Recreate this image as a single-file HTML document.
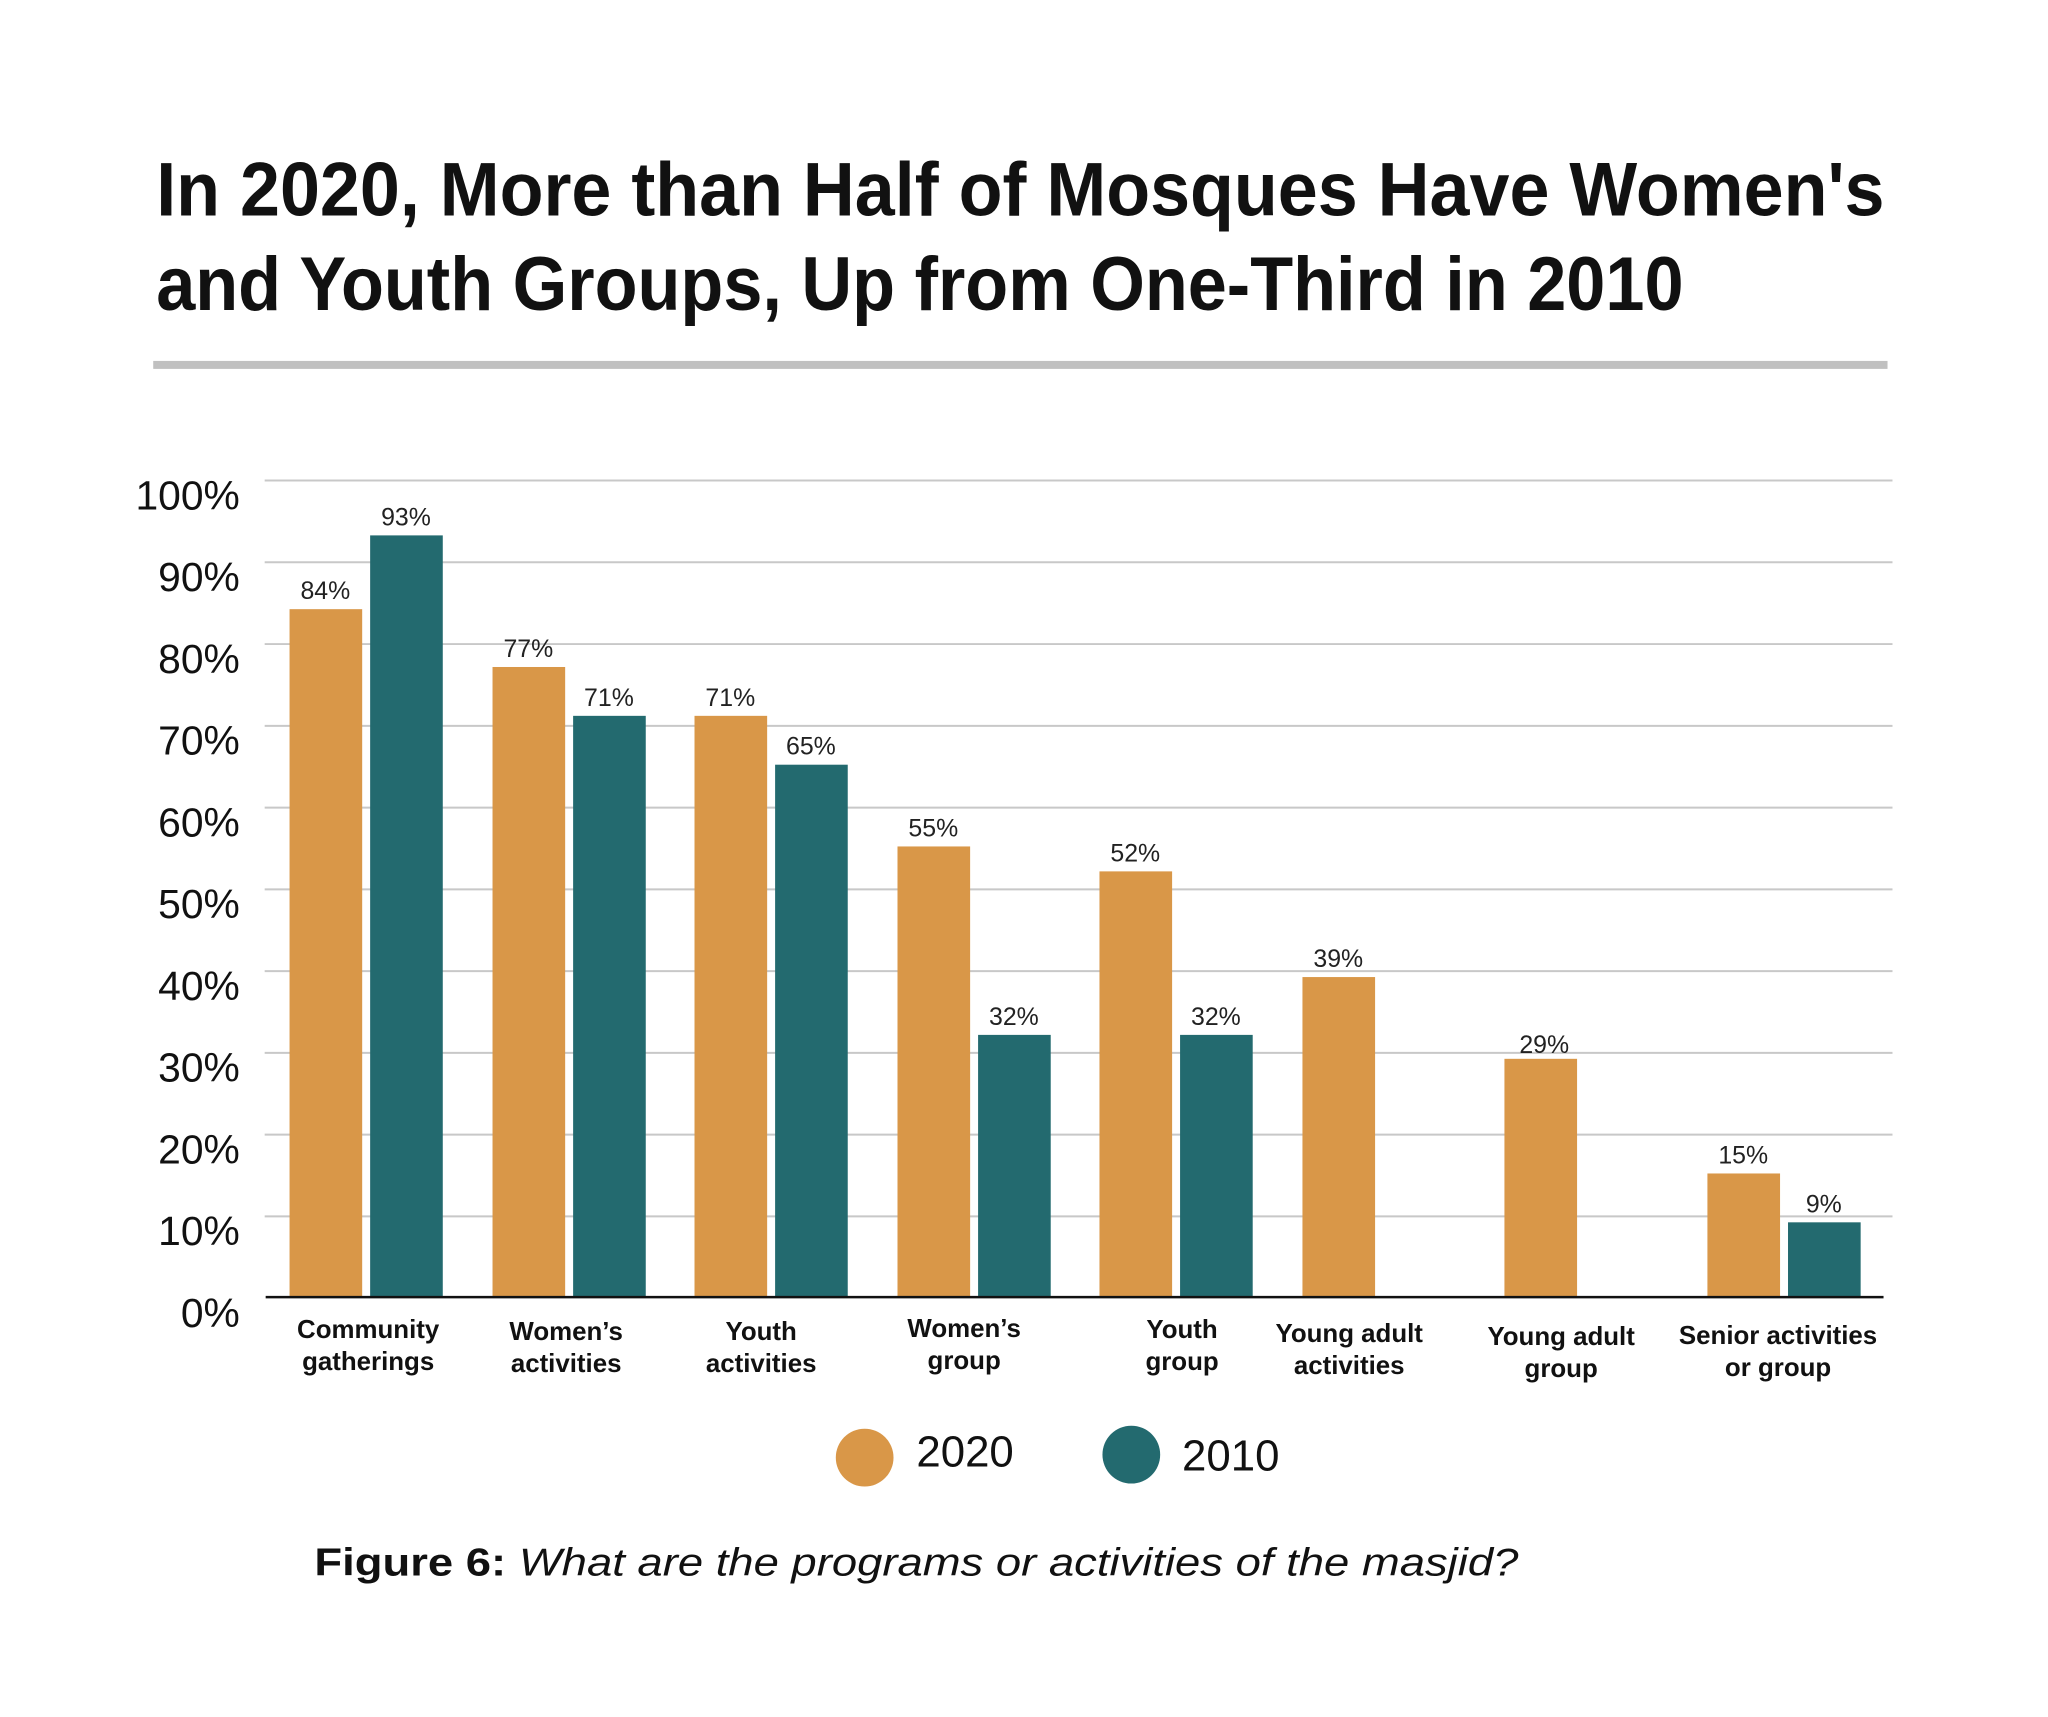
<!DOCTYPE html>
<html><head><meta charset="utf-8"><style>
html,body{margin:0;padding:0;background:#fff;}
svg{display:block;}
</style></head><body>
<svg width="2048" height="1717" viewBox="0 0 2048 1717" xmlns="http://www.w3.org/2000/svg" font-family="Liberation Sans, sans-serif">
<rect width="2048" height="1717" fill="#fff"/>
<g transform="scale(0.995,0.997)">
<text x="157" y="216" font-size="76" font-weight="bold" textLength="1737" lengthAdjust="spacingAndGlyphs" fill="#111">In 2020, More than Half of Mosques Have Women's</text>
<text x="157" y="311" font-size="76" font-weight="bold" textLength="1535" lengthAdjust="spacingAndGlyphs" fill="#111">and Youth Groups, Up from One-Third in 2010</text>
<rect x="154" y="362" width="1743" height="8" fill="#c0c0c0"/>
<g stroke="#c8c8c8" stroke-width="2">
<line x1="266" x2="1902" y1="482" y2="482"/><line x1="266" x2="1902" y1="564" y2="564"/>
<line x1="266" x2="1902" y1="646" y2="646"/><line x1="266" x2="1902" y1="728" y2="728"/>
<line x1="266" x2="1902" y1="810" y2="810"/><line x1="266" x2="1902" y1="892" y2="892"/>
<line x1="266" x2="1902" y1="974" y2="974"/><line x1="266" x2="1902" y1="1056" y2="1056"/>
<line x1="266" x2="1902" y1="1138" y2="1138"/><line x1="266" x2="1902" y1="1220" y2="1220"/>
</g>
<g font-size="41" fill="#111" text-anchor="end">
<text x="241" y="511">100%</text><text x="241" y="593">90%</text><text x="241" y="675">80%</text>
<text x="241" y="757">70%</text><text x="241" y="839">60%</text><text x="241" y="921">50%</text>
<text x="241" y="1003">40%</text><text x="241" y="1085">30%</text><text x="241" y="1167">20%</text>
<text x="241" y="1249">10%</text><text x="241" y="1331">0%</text>
</g>
<g fill="#D99748">
<rect x="291" y="611" width="73" height="689"/>
<rect x="495" y="669" width="73" height="631"/>
<rect x="698" y="718" width="73" height="582"/>
<rect x="902" y="849" width="73" height="451"/>
<rect x="1105" y="874" width="73" height="426"/>
<rect x="1309" y="980" width="73" height="320"/>
<rect x="1512" y="1062" width="73" height="238"/>
<rect x="1716" y="1177" width="73" height="123"/>
</g>
<g fill="#236A6F">
<rect x="372" y="537" width="73" height="763"/>
<rect x="576" y="718" width="73" height="582"/>
<rect x="779" y="767" width="73" height="533"/>
<rect x="983" y="1038" width="73" height="262"/>
<rect x="1186" y="1038" width="73" height="262"/>
<rect x="1797" y="1226" width="73" height="74"/>
</g>
<line x1="267" x2="1893" y1="1301" y2="1301" stroke="#111" stroke-width="2.5"/>
<g font-size="25" fill="#222" text-anchor="middle">
<text x="327" y="601">84%</text><text x="408" y="527">93%</text>
<text x="531" y="659">77%</text><text x="612" y="708">71%</text>
<text x="734" y="708">71%</text><text x="815" y="757">65%</text>
<text x="938" y="839">55%</text><text x="1019" y="1028">32%</text>
<text x="1141" y="864">52%</text><text x="1222" y="1028">32%</text>
<text x="1345" y="970">39%</text>
<text x="1552" y="1056">29%</text>
<text x="1752" y="1167">15%</text><text x="1833" y="1216">9%</text>
</g>
<g font-size="26" font-weight="bold" fill="#111" text-anchor="middle">
<text x="370" y="1342">Community</text><text x="370" y="1374">gatherings</text>
<text x="569" y="1344">Women’s</text><text x="569" y="1376">activities</text>
<text x="765" y="1344">Youth</text><text x="765" y="1376">activities</text>
<text x="969" y="1341">Women’s</text><text x="969" y="1373">group</text>
<text x="1188" y="1342">Youth</text><text x="1188" y="1374">group</text>
<text x="1356" y="1346">Young adult</text><text x="1356" y="1378">activities</text>
<text x="1569" y="1349">Young adult</text><text x="1569" y="1381">group</text>
<text x="1787" y="1348">Senior activities</text><text x="1787" y="1380">or group</text>
</g>
<circle cx="869" cy="1462" r="29" fill="#D99748"/>
<text x="921" y="1471" font-size="44" fill="#111">2020</text>
<circle cx="1137" cy="1459" r="29" fill="#236A6F"/>
<text x="1188" y="1475" font-size="44" fill="#111">2010</text>
<text x="316" y="1580" font-size="39" fill="#111" textLength="1210" lengthAdjust="spacingAndGlyphs"><tspan font-weight="bold">Figure 6:</tspan> <tspan font-style="italic">What are the programs or activities of the masjid?</tspan></text>
</g>
</svg>
</body></html>
